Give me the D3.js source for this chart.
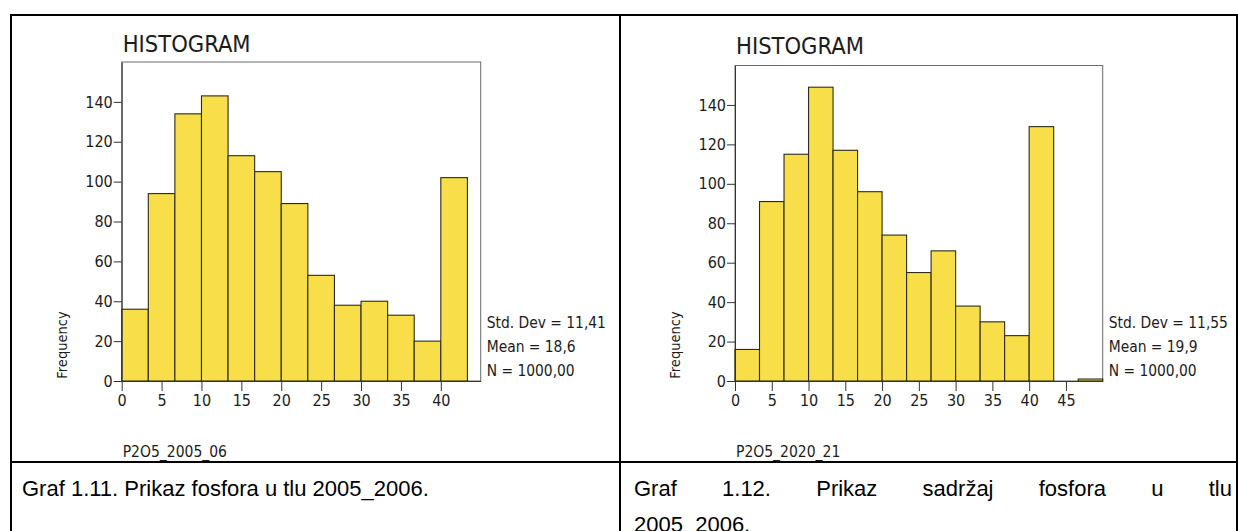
<!DOCTYPE html>
<html><head><meta charset="utf-8">
<script src="https://cdn.jsdelivr.net/npm/d3@7/dist/d3.min.js"></script>
<style>body{margin:0;background:#fff}svg{display:block}</style>
</head><body>
<svg id="c" width="1238" height="531"></svg>
<script>
// ---- data ----
const binWidth = 10 / 3;
const leftCounts = [36, 94, 134, 143, 113, 105, 89, 53, 38, 40, 33, 20, 102];
const rightCounts = [16, 91, 115, 149, 117, 96, 74, 55, 66, 38, 30, 23, 129, 0, 1];
const leftXTicks = [0, 5, 10, 15, 20, 25, 30, 35, 40];
const rightXTicks = [0, 5, 10, 15, 20, 25, 30, 35, 40, 45];
const yTicks = [0, 20, 40, 60, 80, 100, 120, 140];
const leftStats = ["Std. Dev = 11,41", "Mean = 18,6", "N = 1000,00"];
const rightStats = ["Std. Dev = 11,55", "Mean = 19,9", "N = 1000,00"];
const titleText = "HISTOGRAM";
const yLabel = "Frequency";
const leftVar = "P2O5_2005_06";
const rightVar = "P2O5_2020_21";
const leftCaption = "Graf 1.11. Prikaz fosfora u tlu 2005_2006.";
const rightCaptionLine1 = ["Graf", "1.12.", "Prikaz", "sadržaj", "fosfora", "u", "tlu"];
const rightCaptionLine2 = "2005_2006.";

// ---- drawing ----
const svg = d3.select("#c");
const chartFont = "'DejaVu Sans Condensed', 'DejaVu Sans', Verdana, sans-serif";
const capFont = "'Liberation Sans', Arial, sans-serif";
const ink = "#1c1c1c";

function chartText(sel, size) {
  return sel.attr("font-family", chartFont).attr("font-stretch", "condensed")
    .attr("font-size", size).attr("fill", ink);
}

// table borders
const border = svg.append("g").attr("stroke", "#000").attr("stroke-width", 2).attr("fill", "none");
border.append("line").attr("x1", 10).attr("x2", 1238).attr("y1", 15).attr("y2", 15);
border.append("line").attr("x1", 11).attr("x2", 11).attr("y1", 14).attr("y2", 531);
border.append("line").attr("x1", 620).attr("x2", 620).attr("y1", 14).attr("y2", 531);
border.append("line").attr("x1", 1237).attr("x2", 1237).attr("y1", 14).attr("y2", 531);
border.append("line").attr("x1", 10).attr("x2", 1238).attr("y1", 462).attr("y2", 462);

function drawPanel(cfg) {
  const g = svg.append("g");
  const x = d3.scaleLinear().domain([0, cfg.xMax]).range([cfg.x0, cfg.x1]);
  const y = d3.scaleLinear().domain([0, 160]).range([cfg.yBase, cfg.yTop]);

  // frame
  g.append("rect").attr("x", cfg.x0).attr("y", cfg.yTop)
    .attr("width", cfg.x1 - cfg.x0).attr("height", cfg.yBase - cfg.yTop)
    .attr("fill", "#fff").attr("stroke", "#6a6a6a").attr("stroke-width", 1);

  // bars
  g.append("g").selectAll("rect").data(cfg.counts).join("rect")
    .attr("x", (d, i) => x(i * binWidth))
    .attr("width", (d, i) => x((i + 1) * binWidth) - x(i * binWidth))
    .attr("y", d => y(d))
    .attr("height", d => y(0) - y(d))
    .attr("fill", "#f8df4a")
    .attr("stroke", "#2e2a1a")
    .attr("stroke-width", 1.1);

  // axes
  const ya = g.append("g").attr("transform", `translate(${cfg.x0},0)`)
    .call(d3.axisLeft(y).tickValues(yTicks).tickSize(8).tickPadding(1).tickSizeOuter(0));
  const xa = g.append("g").attr("transform", `translate(0,${cfg.yBase})`)
    .call(d3.axisBottom(x).tickValues(cfg.xTicks).tickSize(10).tickPadding(4).tickSizeOuter(0));
  [ya, xa].forEach(a => {
    a.selectAll("path").attr("stroke", "#333");
    a.selectAll("line").attr("stroke", "#333");
    chartText(a.selectAll("text"), 16);
  });

  // title
  chartText(g.append("text").attr("x", cfg.x0 + 1).attr("y", cfg.titleY), 23.5)
    .text(titleText);

  // y label
  chartText(g.append("text")
    .attr("transform", `translate(${cfg.x0 - 55},345) rotate(-90)`)
    .attr("text-anchor", "middle"), 14.5)
    .text(yLabel);

  // stats
  chartText(g.append("g").selectAll("text").data(cfg.stats).join("text")
    .attr("x", cfg.x1 + 6)
    .attr("y", (d, i) => 328 + i * 24), 15.4)
    .text(d => d);

  // variable name
  chartText(g.append("text").attr("x", cfg.x0 + 1).attr("y", 457), 15.5)
    .text(cfg.varName);
}

drawPanel({counts: leftCounts, xTicks: leftXTicks, xMax: 45, x0: 121.7, x1: 480.7,
  yTop: 62, yBase: 381, titleY: 52, stats: leftStats, varName: leftVar});
drawPanel({counts: rightCounts, xTicks: rightXTicks, xMax: 50, x0: 735, x1: 1102.7,
  yTop: 65.5, yBase: 381, titleY: 54, stats: rightStats, varName: rightVar});

// captions
svg.append("text").attr("x", 22).attr("y", 496)
  .attr("font-family", capFont).attr("font-size", 22).attr("fill", "#000")
  .text(leftCaption);

// justified right caption line 1
const capG = svg.append("g");
const words = capG.selectAll("text").data(rightCaptionLine1).join("text")
  .attr("y", 496).attr("font-family", capFont).attr("font-size", 22).attr("fill", "#000")
  .text(d => d);
const widths = [];
words.each(function () { widths.push(this.getComputedTextLength()); });
const startX = 634, endX = 1232;
const gap = (endX - startX - d3.sum(widths)) / (widths.length - 1);
let cx = startX;
words.attr("x", (d, i) => { const v = cx; cx += widths[i] + gap; return v; });

svg.append("text").attr("x", 634).attr("y", 532)
  .attr("font-family", capFont).attr("font-size", 22).attr("fill", "#000")
  .text(rightCaptionLine2);
</script>
</body></html>
